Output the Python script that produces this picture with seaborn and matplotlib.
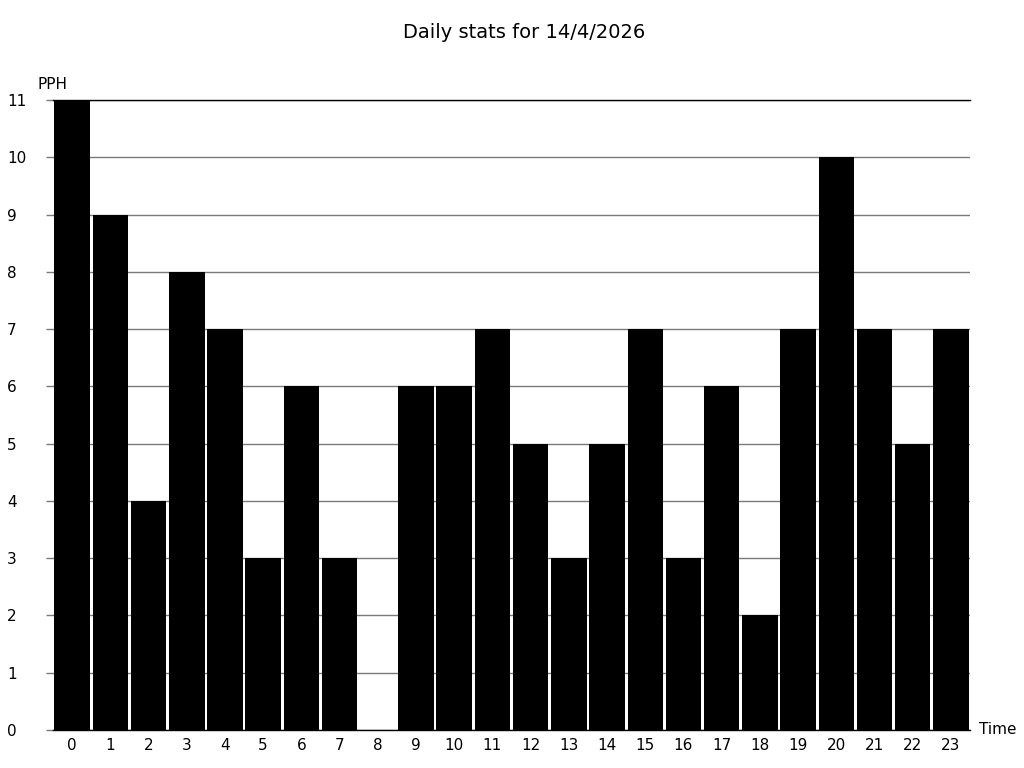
import pandas as pd
import seaborn as sns
import matplotlib.pyplot as plt

# Hourly values
hours = list(range(24))
pph = [11, 9, 4, 8, 7, 3, 6, 3, 0, 6, 6, 7, 5, 3, 5, 7, 3, 6, 2, 7, 10, 7, 5, 7]
y_ticks = list(range(12))

df = pd.DataFrame({'hour': hours, 'pph': pph})

sns.set_style('white')
plt.rcParams['font.family'] = ['DejaVu Sans']
plt.rcParams['text.color'] = 'black'
plt.rcParams['xtick.color'] = 'black'
plt.rcParams['ytick.color'] = 'black'

fig = plt.figure(figsize=(10.24, 7.68), dpi=100)
ax = fig.add_axes([0.0518, 0.0495, 0.8955, 0.8203])

sns.barplot(x='hour', y='pph', data=df, color='black', saturation=1,
            width=0.93, edgecolor='none', ax=ax)

ax.set_xlim(-0.5, 23.5)
ax.set_ylim(0, 11)
ax.set_yticks(y_ticks)
ax.set_yticklabels([str(v) for v in y_ticks])
ax.set_axisbelow(True)
ax.yaxis.grid(True, color='#7a7a7a', linewidth=1)
ax.xaxis.grid(False)

for side in ['left', 'right']:
    ax.spines[side].set_visible(False)
ax.spines['top'].set_color('black')
ax.spines['top'].set_linewidth(1)
ax.spines['bottom'].set_color('black')
ax.spines['bottom'].set_linewidth(1)

ax.tick_params(axis='y', length=5, width=1, color='#7a7a7a', labelcolor='black',
               pad=28, labelsize=11, left=True)
for lbl in ax.get_yticklabels():
    lbl.set_horizontalalignment('left')
ax.tick_params(axis='x', length=0, pad=6, labelsize=11, labelcolor='black')

ax.set_xlabel('')
ax.set_ylabel('')
ax.text(-0.017, 1.012, 'PPH', transform=ax.transAxes, fontsize=11, ha='left', va='bottom')
ax.text(1.01, 0.0, 'Time', transform=ax.transAxes, fontsize=11, ha='left', va='center')

fig.suptitle('Daily stats for 14/4/2026', x=0.512, y=0.97, fontsize=14, color='black')

plt.savefig('out.png', dpi=100)
